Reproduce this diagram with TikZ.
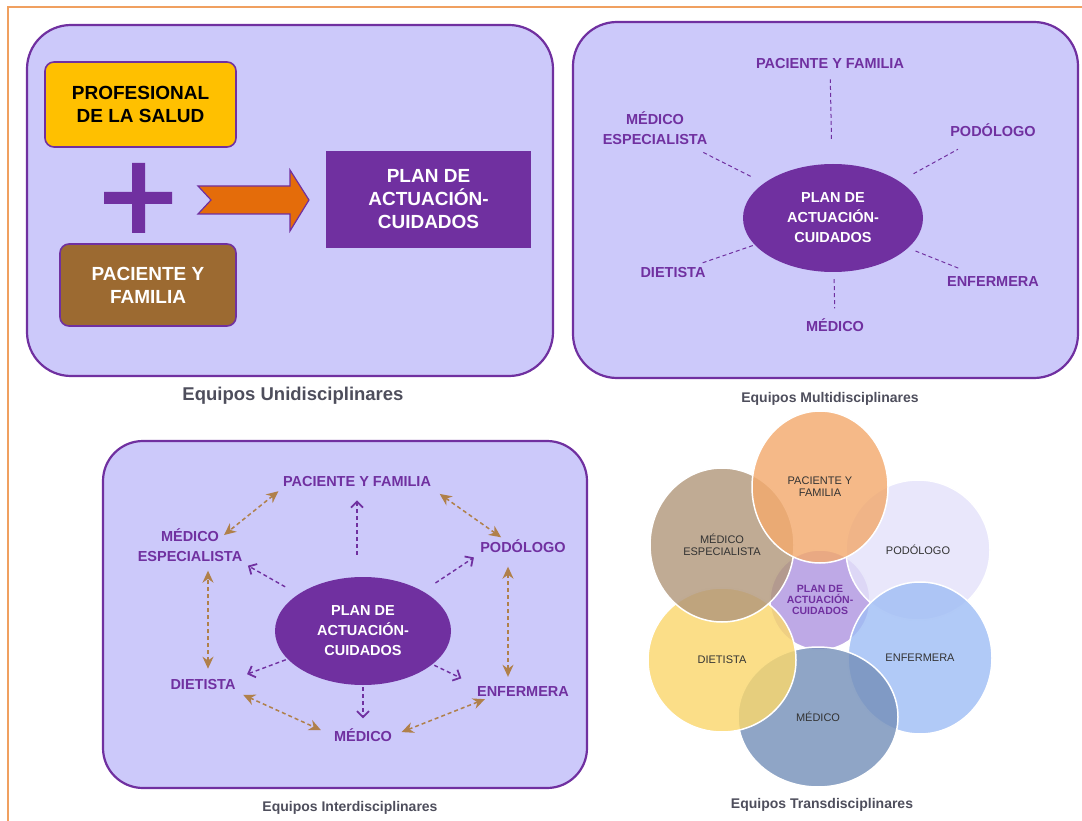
\documentclass[tikz,border=0pt]{standalone}
\usepackage{fontspec}
\setmainfont{Liberation Sans}
\usetikzlibrary{arrows.meta,shapes.geometric}
\definecolor{morado}{RGB}{112,48,160}
\definecolor{lila}{RGB}{204,201,250}
\definecolor{naranja}{RGB}{228,108,10}
\definecolor{amarillo}{RGB}{255,192,0}
\definecolor{marron}{RGB}{156,106,49}
\definecolor{ocre}{RGB}{176,128,74}
\definecolor{gris}{RGB}{78,78,92}
\definecolor{marco}{RGB}{240,160,96}

\begin{document}
\begin{tikzpicture}[x=1pt,y=-1pt,
	panel/.style={draw=morado,line width=2.2pt,fill=lila,rounded corners=44pt},
	caja/.style={draw=morado,line width=1.6pt,rounded corners=9pt,align=center,font=\fontsize{19}{23}\selectfont\bfseries},
	lbl/.style={text=morado,align=center,inner sep=2pt,font=\fontsize{14.5}{20}\selectfont\bfseries},
	plan/.style={ellipse,fill=morado,text=white,align=center,inner sep=0pt,font=\fontsize{14.5}{20}\selectfont\bfseries},
	pie/.style={text=gris,font=\fontsize{14}{16}\selectfont\bfseries},
	linea/.style={draw=morado,dash pattern=on 4pt off 3pt,line width=1pt},
	flecha/.style={-{Straight Barb[length=6pt,width=12pt,line width=1.8pt]},draw=morado,dash pattern=on 4pt off 3pt,line width=1.4pt},
	doble/.style={{Stealth[length=12pt,width=11pt]}-{Stealth[length=12pt,width=11pt]},draw=ocre,dash pattern=on 4pt off 3pt,line width=1.5pt},
	circ/.style={ellipse,draw=white,line width=1.5pt,fill opacity=.82,text opacity=1,align=center,text=black!80,inner sep=0pt,font=\fontsize{11}{12}\selectfont}]

	\useasboundingbox (0,0) rectangle (1082,821);
	\draw[marco,line width=2pt] (1082,7) -- (8,7) -- (8,821);

	% equipos unidisciplinares
	\path[panel] (27,25) rectangle (553,376);
	\node[caja,fill=amarillo,minimum width=191pt,minimum height=85pt] (prof) at (140.5,104.5) {PROFESIONAL\\DE LA SALUD};
	\node[caja,fill=marron,text=white,minimum width=176pt,minimum height=82pt] (fam) at (148,285) {PACIENTE Y\\FAMILIA};
	\node[caja,fill=morado,text=white,rounded corners=0pt,minimum width=203pt,minimum height=95pt] (plan1) at (428.5,199.5) {PLAN DE\\ACTUACIÓN-\\CUIDADOS};
	\fill[morado] (104,192) rectangle (172,204) (132,163) rectangle (145,233);
	\draw[fill=naranja,draw=morado,line width=1.2pt] (198,186) -- (290,186) -- (290,170) -- (309,200)
		-- (290,231) -- (290,214) -- (198,214) -- (211,200) -- cycle;
	\node[pie,font=\fontsize{18.5}{20}\selectfont\bfseries] (t1) at (293,396) {Equipos Unidisciplinares};

	% equipos multidisciplinares
	\path[panel] (573,22) rectangle (1078,378);
	\node[plan,minimum width=180pt,minimum height=108pt] (plan2) at (833,218) {PLAN DE\\ACTUACIÓN-\\CUIDADOS};
	\node[lbl] (pf2) at (830,64) {PACIENTE Y FAMILIA};
	\node[lbl] (esp2) at (655,128) {MÉDICO\\ESPECIALISTA};
	\node[lbl] (pod2) at (993,130) {PODÓLOGO};
	\node[lbl] (diet2) at (673,273) {DIETISTA};
	\node[lbl] (enf2) at (993,282) {ENFERMERA};
	\node[lbl] (med2) at (835,325) {MÉDICO};
	\path
	(plan2) edge[linea,shorten <=25pt,shorten >=8pt] (pf2)
	(plan2) edge[linea,shorten <=15pt,shorten >=12pt] (esp2)
	(plan2) edge[linea,shorten <=16pt,shorten >=22pt] (pod2)
	(plan2) edge[linea,shorten <=2pt,shorten >=8pt] (diet2)
	(plan2) edge[linea,shorten <=8pt,shorten >=18pt] (enf2)
	(plan2) edge[linea,shorten <=7pt,shorten >=8pt] (med2);
	\node[pie] (t2) at (830,399) {Equipos Multidisciplinares};

	% equipos interdisciplinares
	\path[panel,rounded corners=40pt] (103,441) rectangle (587,788);
	\node[plan,minimum width=176pt,minimum height=108pt] (plan3) at (363,631) {PLAN DE\\ACTUACIÓN-\\CUIDADOS};
	\node[lbl] (pf3) at (357,482) {PACIENTE Y FAMILIA};
	\node[lbl] (esp3) at (190,545) {MÉDICO\\ESPECIALISTA};
	\node[lbl] (pod3) at (523,546) {PODÓLOGO};
	\node[lbl] (diet3) at (203,685) {DIETISTA};
	\node[lbl] (enf3) at (523,692) {ENFERMERA};
	\node[lbl] (med3) at (363,735) {MÉDICO};
	\path
	(plan3.north -| pf3.south) edge[flecha,shorten <=22pt,shorten >=11pt] (pf3.south)
	(plan3) edge[flecha,shorten <=15pt,shorten >=4pt] (esp3.south east)
	(plan3) edge[flecha,shorten <=15pt,shorten >=5pt] (pod3.south west)
	(plan3) edge[flecha,shorten <=2pt,shorten >=10pt] (diet3.north east)
	(plan3) edge[flecha,shorten <=2pt,shorten >=15pt] (enf3.north west)
	(plan3) edge[flecha,shorten <=2pt,shorten >=8pt] (med3);
	\path
	(pf3.south west) edge[doble,shorten <=3pt,shorten >=2pt] ([xshift=-22pt,yshift=-10pt]esp3.north east)
	(pf3.south east) edge[doble,shorten <=8pt] ([xshift=23pt]pod3.north west)
	([xshift=5pt]diet3.north) edge[doble,shorten <=9pt,shorten >=7pt] ([xshift=5pt]diet3.north |- esp3.south)
	([xshift=-15pt]pod3.south) edge[doble,shorten <=12pt,shorten >=8pt] ([xshift=-15pt]enf3.north)
	(diet3.south east) edge[doble,shorten <=6pt,shorten >=12pt] (med3.west)
	(med3.east) edge[doble,shorten <=8pt] ([xshift=10pt]enf3.south west);
	\node[pie] (t3) at (350,808) {Equipos Interdisciplinares};

	% equipos transdisciplinares
	\node[circ,fill={rgb,255:red,176;green,150;blue,224},minimum width=100pt,minimum height=100pt,text=morado,font=\fontsize{10.5}{11}\selectfont\bfseries] (plan4) at (820,600) {PLAN DE\\ACTUACIÓN-\\CUIDADOS};
	\node[circ,fill={rgb,255:red,228;green,226;blue,250},minimum width=144pt,minimum height=140pt] (pod4) at (918,550) {PODÓLOGO};
	\node[circ,fill={rgb,255:red,160;green,190;blue,245},minimum width=144pt,minimum height=152pt] (enf4) at (920,658) {ENFERMERA};
	\node[circ,fill={rgb,255:red,118;green,145;blue,186},minimum width=160pt,minimum height=140pt] (med4) at (818,717) {MÉDICO};
	\node[circ,fill={rgb,255:red,250;green,215;blue,110},minimum width=148pt,minimum height=144pt] (diet4) at (722,660) {DIETISTA};
	\node[circ,fill={rgb,255:red,178;green,152;blue,124},minimum width=144pt,minimum height=154pt] (esp4) at (722,545) {MÉDICO\\ESPECIALISTA};
	\node[circ,fill={rgb,255:red,243;green,170;blue,110},minimum width=136pt,minimum height=152pt] (pf4) at (820,487) {PACIENTE Y\\FAMILIA};
	\node[pie] (t4) at (822,805) {Equipos Transdisciplinares};
\end{tikzpicture}
\end{document}
